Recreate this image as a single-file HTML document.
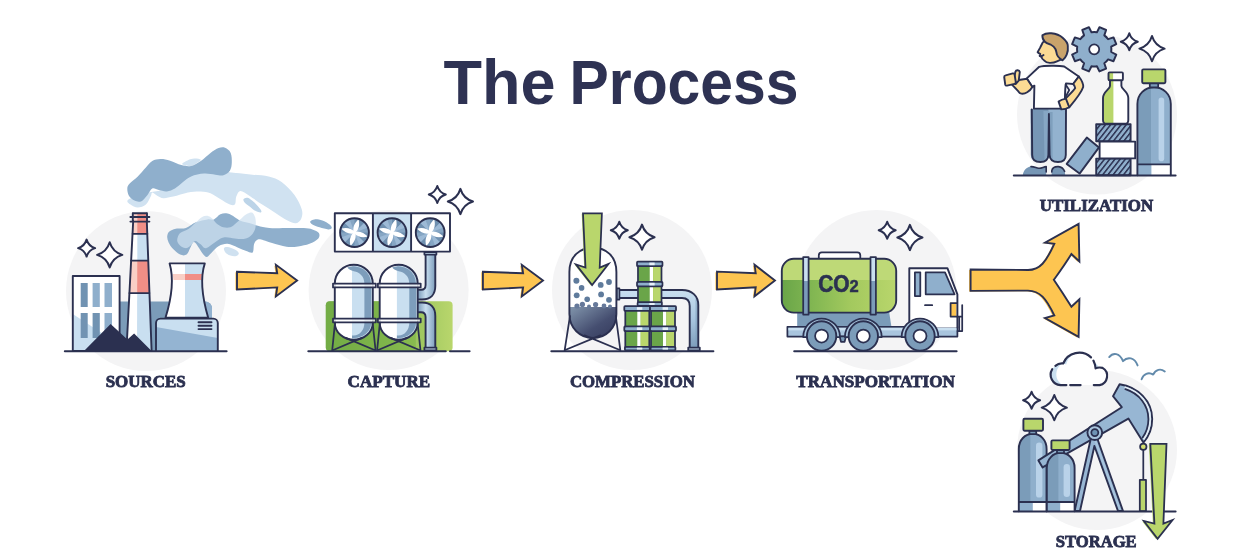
<!DOCTYPE html>
<html><head><meta charset="utf-8"><title>The Process</title>
<style>
html,body{margin:0;padding:0;background:#fff;}
body{width:1252px;height:557px;overflow:hidden;font-family:"Liberation Sans",sans-serif;}
svg{display:block;}
.lbl{font-family:"Liberation Serif",serif;font-weight:bold;font-size:16.4px;fill:#2b3050;stroke:#2b3050;stroke-width:0.8;}
.ttl{font-family:"Liberation Sans",sans-serif;font-weight:bold;font-size:63.5px;fill:#2e3253;}
.ol{stroke:#2b3050;stroke-width:1.9;stroke-linejoin:round;stroke-linecap:round;}
.nf{fill:none;}
.gl{stroke:#2b3050;stroke-width:2;stroke-linecap:round;fill:none;}
.sp{fill:#fff;stroke:#2b3050;stroke-width:1.4;stroke-linejoin:round;}
.ar{fill:#fdc551;stroke:#2b3050;stroke-width:1.9;stroke-linejoin:miter;}
</style></head>
<body>
<svg width="1252" height="557" viewBox="0 0 1252 557">
<defs>
<filter id="nof" x="-5%" y="-50%" width="110%" height="200%"><feOffset dx="0" dy="0"/></filter>
<path id="spk" d="M0,-1 C0.15,-0.5 0.5,-0.15 1,0 C0.5,0.15 0.15,0.5 0,1 C-0.15,0.5 -0.5,0.15 -1,0 C-0.5,-0.15 -0.15,-0.5 0,-1Z"/>
<linearGradient id="gGreen" x1="0" x2="1" y1="0" y2="0"><stop offset="0" stop-color="#6aa549"/><stop offset="0.5" stop-color="#86b954"/><stop offset="1" stop-color="#b9d66c"/></linearGradient>
<linearGradient id="gGreen2" x1="0" x2="1" y1="0" y2="0"><stop offset="0" stop-color="#69a548"/><stop offset="0.3" stop-color="#84b853"/><stop offset="0.6" stop-color="#a3c95e"/><stop offset="1" stop-color="#b9d66c"/></linearGradient>
<linearGradient id="gPipeV" x1="0" x2="1" y1="0" y2="0"><stop offset="0" stop-color="#7d9dbb"/><stop offset="0.45" stop-color="#c9dff0"/><stop offset="1" stop-color="#7d9dbb"/></linearGradient>
<linearGradient id="gPipeH" x1="0" x2="0" y1="0" y2="1"><stop offset="0" stop-color="#c9dff0"/><stop offset="0.5" stop-color="#a9c6e0"/><stop offset="1" stop-color="#7d9dbb"/></linearGradient>
<linearGradient id="gLiq" x1="0" x2="1" y1="0" y2="1"><stop offset="0" stop-color="#8296ad"/><stop offset="0.6" stop-color="#454e70"/><stop offset="1" stop-color="#343a5c"/></linearGradient>
</defs>
<rect width="1252" height="557" fill="#fff"/>
<g filter="url(#nof)"><text class="ttl" x="443.5" y="103.6" textLength="112" lengthAdjust="spacingAndGlyphs">The</text>
<text class="ttl" x="569.5" y="103.6" textLength="229" lengthAdjust="spacingAndGlyphs">Process</text></g>
<g fill="#f4f4f5">
<circle cx="146" cy="291" r="80"/>
<circle cx="388.6" cy="290" r="80"/>
<circle cx="632" cy="290" r="80"/>
<circle cx="876.5" cy="290" r="80"/>
<circle cx="1097" cy="114.5" r="80"/>
<circle cx="1097" cy="450" r="80"/>
</g>
<!-- smoke -->
<g>
<path fill="#d0e2f1" d="M182.2,164.2 C181.7,163.2 185.9,161.1 187.9,160.2 C189.9,159.3 192.2,158.7 194.3,158.6 C196.5,158.5 200.2,159.0 200.8,159.7 C201.4,160.4 199.2,161.6 197.6,162.6 C196.0,163.6 193.7,165.6 191.1,165.9 C188.5,166.2 182.7,165.1 182.2,164.2Z"/>
<path fill="#d0e2f1" d="M128.1,199.8 C125.8,201.7 128.9,203.3 130.5,204.6 C132.1,205.9 135.2,207.5 137.8,207.5 C140.4,207.5 143.8,206.4 145.9,204.6 C148.1,202.8 149.6,198.6 150.7,196.6 C151.8,194.6 151.2,192.7 152.3,192.5 C153.4,192.3 155.3,194.8 157.2,195.7 C159.1,196.6 160.9,198.0 163.6,198.2 C166.3,198.3 169.2,197.5 173.3,196.6 C177.4,195.7 183.3,193.4 187.9,192.5 C192.5,191.6 197.0,191.3 200.8,191.4 C204.6,191.5 207.3,192.0 210.5,193.3 C213.7,194.6 217.0,197.1 220.2,199.0 C223.4,200.9 227.4,203.7 229.9,204.6 C232.4,205.5 233.9,205.6 235.0,204.3 C236.1,203.0 235.4,198.8 236.3,196.6 C237.2,194.4 238.2,191.1 240.4,190.9 C242.6,190.8 245.7,193.4 249.3,195.7 C252.9,198.0 257.9,201.8 262.2,204.6 C266.5,207.4 270.8,210.0 275.1,212.7 C279.4,215.4 284.5,219.1 288.0,220.8 C291.5,222.6 293.9,223.6 296.1,223.2 C298.3,222.8 300.4,220.7 301.3,218.4 C302.2,216.1 302.9,213.4 301.8,209.5 C300.7,205.6 297.9,199.5 294.5,194.9 C291.1,190.3 285.9,185.1 281.6,182.0 C277.3,178.9 273.6,177.6 268.7,176.4 C263.8,175.2 257.9,175.2 252.5,174.7 C247.1,174.1 240.1,173.5 236.3,173.1 C232.5,172.7 233.1,172.7 229.9,172.3 C226.7,171.9 221.8,170.7 216.9,170.7 C212.1,170.7 206.2,171.2 200.8,172.3 C195.4,173.4 190.0,174.5 184.6,177.2 C179.2,179.9 175.2,185.8 168.5,188.5 C161.8,191.2 150.9,191.4 144.2,193.3 C137.5,195.2 130.4,197.9 128.1,199.8Z"/>
<path fill="#8fafcc" d="M127.3,188.5 C127.4,186.5 127.9,185.6 129.7,183.6 C131.4,181.6 135.1,179.1 137.8,176.4 C140.5,173.7 143.5,170.1 145.9,167.5 C148.3,164.9 149.9,162.4 152.3,161.0 C154.7,159.6 157.4,159.2 160.4,159.1 C163.4,159.0 166.6,159.7 170.1,160.7 C173.6,161.7 177.9,164.1 181.4,165.0 C184.9,165.9 187.9,166.6 191.1,165.9 C194.3,165.2 197.6,163.2 200.8,161.0 C204.0,158.8 207.5,155.1 210.5,152.9 C213.5,150.8 216.2,148.9 218.6,148.1 C221.0,147.2 223.0,147.0 225.0,147.8 C227.0,148.6 229.6,150.4 230.7,152.9 C231.8,155.4 231.9,159.6 231.8,162.6 C231.7,165.6 231.3,168.6 229.9,170.7 C228.5,172.8 225.8,174.5 223.4,175.2 C221.0,175.9 218.5,175.0 215.3,174.7 C212.1,174.4 208.0,173.3 204.0,173.6 C200.0,173.9 194.6,175.0 191.1,176.4 C187.6,177.8 185.7,180.0 183.0,182.0 C180.3,184.0 177.6,186.9 174.9,188.5 C172.2,190.1 169.6,191.1 166.9,191.4 C164.2,191.7 161.2,190.6 158.8,190.1 C156.4,189.6 154.2,187.7 152.3,188.5 C150.4,189.3 149.4,192.8 147.5,194.9 C145.6,197.1 143.2,200.5 141.0,201.4 C138.8,202.3 136.5,201.6 134.5,200.6 C132.5,199.6 130.1,197.7 128.9,195.7 C127.7,193.7 127.2,190.5 127.3,188.5Z"/>
<path fill="#bcd4e8" d="M243.6,199.0 C244.1,198.3 245.8,197.3 247.6,197.8 C249.3,198.3 251.9,200.2 254.1,202.2 C256.3,204.1 259.5,207.8 260.6,209.5 C261.7,211.2 261.7,212.1 260.9,212.4 C260.1,212.7 257.6,212.1 255.7,211.1 C253.8,210.1 251.2,207.7 249.3,206.2 C247.4,204.7 245.4,203.4 244.4,202.2 C243.4,201.0 243.1,199.7 243.6,199.0Z"/>
<path fill="#8fafcc" d="M167.2,236.6 C167.3,234.8 167.9,232.9 169.3,231.6 C170.7,230.3 173.0,229.3 175.8,228.7 C178.6,228.1 182.6,229.1 185.9,228.0 C189.2,226.9 192.3,223.7 195.9,222.3 C199.5,220.9 204.4,219.9 207.4,219.4 C210.4,218.9 211.7,220.2 213.9,219.4 C216.1,218.6 218.1,215.3 220.4,214.3 C222.7,213.3 225.2,213.1 227.6,213.6 C230.0,214.1 232.7,216.0 234.8,217.2 C237.0,218.4 238.1,219.8 240.5,220.8 C242.9,221.8 246.2,222.2 249.1,223.0 C252.0,223.8 254.4,225.0 257.8,225.8 C261.2,226.6 264.0,227.6 269.3,228.0 C274.6,228.4 283.6,228.0 289.4,228.0 C295.1,228.0 300.0,227.8 303.8,228.0 C307.6,228.2 309.9,228.6 312.4,229.4 C314.9,230.2 317.9,231.4 318.9,233.0 C319.8,234.6 319.7,237.0 318.1,238.8 C316.5,240.6 312.9,242.5 309.5,243.8 C306.1,245.1 301.8,245.9 298.0,246.4 C294.2,246.9 290.8,247.2 286.5,246.7 C282.2,246.1 275.9,244.2 272.1,243.1 C268.3,242.0 265.9,240.8 263.5,240.2 C261.1,239.6 259.4,238.9 257.8,239.5 C256.2,240.1 255.0,241.7 254.2,243.8 C253.3,246.0 254.0,251.2 252.7,252.4 C251.4,253.6 248.8,251.8 246.3,251.0 C243.8,250.2 240.7,248.6 237.6,247.4 C234.5,246.2 230.7,244.0 227.6,243.8 C224.5,243.6 221.5,244.6 218.9,246.0 C216.3,247.4 213.8,250.6 211.8,252.4 C209.8,254.2 208.3,256.9 206.7,257.0 C205.1,257.1 203.8,254.9 202.4,253.2 C201.0,251.5 199.5,248.5 198.1,246.7 C196.7,244.8 195.1,241.9 193.8,242.1 C192.5,242.3 191.4,246.0 190.2,248.1 C189.0,250.2 188.3,253.5 186.6,254.6 C184.9,255.7 182.4,255.6 180.1,254.6 C177.8,253.6 174.8,250.8 172.9,248.8 C171.0,246.8 169.6,244.4 168.6,242.4 C167.6,240.4 167.1,238.4 167.2,236.6Z"/>
<path fill="#cfe1f0" fill-opacity="0.72" d="M177.3,238.8 C177.7,237.1 178.2,234.7 180.1,233.0 C182.0,231.3 186.2,230.5 188.8,228.7 C191.4,226.9 193.8,224.2 195.9,222.3 C198.1,220.4 199.8,218.3 201.7,217.2 C203.6,216.1 205.6,215.6 207.4,215.8 C209.2,216.1 210.9,217.4 212.5,218.7 C214.1,220.0 215.0,222.3 216.8,223.7 C218.6,225.1 221.0,226.7 223.3,227.3 C225.6,227.9 228.2,228.0 230.4,227.3 C232.6,226.6 234.3,224.6 236.2,223.0 C238.1,221.4 240.0,219.5 241.9,217.9 C243.8,216.3 245.9,214.4 247.7,213.6 C249.5,212.8 251.4,211.9 252.7,212.9 C254.0,213.9 255.2,216.8 255.6,219.4 C256.0,222.0 255.9,226.1 255.2,228.7 C254.5,231.3 253.0,233.5 251.3,235.2 C249.6,236.9 247.6,238.3 244.8,238.8 C242.1,239.3 238.2,238.7 234.8,238.4 C231.5,238.2 227.7,236.9 224.7,237.3 C221.7,237.7 219.4,239.3 216.8,240.9 C214.2,242.5 210.9,245.5 208.9,246.7 C206.9,247.9 206.0,248.5 204.6,248.1 C203.2,247.7 201.9,245.3 200.3,244.1 C198.7,242.9 196.8,240.7 195.2,240.9 C193.6,241.1 192.3,244.1 190.9,245.3 C189.5,246.5 188.2,247.9 186.6,248.1 C185.0,248.3 183.0,247.5 181.6,246.7 C180.2,245.9 178.7,244.4 178.0,243.1 C177.3,241.8 177.0,240.5 177.3,238.8Z"/>
<path fill="#8fafcc" d="M310.2,221.5 C310.6,220.7 312.5,219.6 314.5,219.4 C316.5,219.2 319.9,219.7 322.4,220.5 C324.9,221.3 328.0,223.2 329.6,224.4 C331.2,225.7 332.0,227.2 331.8,228.0 C331.6,228.8 330.2,229.5 328.2,229.4 C326.2,229.3 322.2,228.1 319.6,227.3 C317.0,226.5 314.0,225.4 312.4,224.4 C310.8,223.4 309.8,222.3 310.2,221.5Z"/>
<path fill="#cfe1f0" d="M224.0,248.1 C224.4,247.2 225.8,246.8 227.6,247.0 C229.4,247.2 232.9,248.6 234.8,249.6 C236.7,250.6 238.6,252.1 238.8,253.2 C239.0,254.3 237.6,255.6 236.2,256.0 C234.8,256.4 232.2,256.2 230.4,255.6 C228.6,255.0 226.5,253.7 225.4,252.4 C224.3,251.2 223.6,249.0 224.0,248.1Z"/>
</g>

<!-- sources -->
<g>
<!-- back block -->
<path fill="#7b9cb9" d="M117,301.5 H205 a7,7 0 0 1 7,7 V351 H117Z"/>
<path fill="#92b2d0" d="M200,301.5 H205 a7,7 0 0 1 7,7 V320 H200Z"/>
<!-- office building -->
<rect x="72.8" y="276" width="46.8" height="75" fill="#fff"/>
<path fill="#c9dff0" d="M72.8,314 L120,345 V351 H72.8Z"/>
<g fill="#8fafcc">
<rect x="80.7" y="283" width="7" height="24" fill="#7193b2"/>
<rect x="92.6" y="283" width="7.2" height="24"/>
<rect x="104.5" y="283" width="7.5" height="24"/>
<rect x="80.7" y="313" width="7" height="25" fill="#7193b2"/>
<rect x="92.6" y="313" width="7.2" height="25" fill="#7193b2"/>
<rect x="104.5" y="313" width="7.5" height="25"/>
</g>
<rect class="ol nf" x="72.8" y="276" width="46.8" height="75"/>
<!-- chimney -->
<path fill="#fff" d="M133.2,221 L146.8,221 L151.6,351 L126.4,351Z"/>
<path fill="#c9dff0" d="M137.4,221 L146.8,221 L151.6,351 L137,351Z"/>
<path fill="#f9cfc6" d="M133.1,213 H147 L147.6,233.8 H132.6Z"/>
<path fill="#f08e86" d="M137.4,213 H147 L147.6,233.8 H137.3Z"/>
<path fill="#f9cfc6" d="M131.1,260.5 H148.2 L149.4,293 H129.4Z"/>
<path fill="#f08e86" d="M137.3,260.5 H148.2 L149.4,293 H137.2Z"/>
<path class="ol nf" d="M133.2,221 L126.4,351 M146.8,221 L151.6,351"/>
<path class="ol nf" d="M132.6,233.8 H147.4 M131.1,260.5 H148.2 M129.4,293 H149.4" style="stroke-width:1.75"/>
<path class="ol nf" d="M133,213.3 H146.8 M130.4,217 H149.4 M130.4,221.6 H149.4 M132.8,213.3 V221.6 M147,213.3 V221.6"/>
<!-- cooling tower -->
<path fill="#fff" d="M169.6,263.4 H204.8 C201,275 200,290 208.2,317.7 H165.5 C174,290 173,275 169.6,263.4Z"/>
<path fill="#c9dff0" d="M185,263.4 H204.8 C201,275 200,290 208.2,317.7 H185Z"/>
<path fill="#f9cfc6" d="M172.6,274 H185 V280 H173.5Z"/>
<path fill="#f08e86" d="M185,274 H201.9 L201.2,280 H185Z"/>
<path class="ol nf" d="M169.6,263.4 H204.8 C201,275 200,290 208.2,317.7 H165.5 C174,290 173,275 169.6,263.4Z"/>
<!-- base -->
<rect x="156" y="318.6" width="61.8" height="32.4" rx="4.5" fill="#c9dff0"/>
<path fill="#94b4d2" d="M156,327 L217.8,338 V351 H156Z"/>
<path class="ol nf" d="M156,351 V323 a4.5,4.5 0 0 1 4.5,-4.4 H213.3 a4.5,4.5 0 0 1 4.5,4.4 V351"/>
<path class="ol nf" d="M198.5,322.3 H211.5 M198.5,325.7 H211.5 M198.5,329.1 H211.5" stroke-width="1.46"/>
<!-- coal -->
<path fill="#2b3050" d="M84,351 L110.6,324 L127.4,339.5 L134.1,333.5 L151.6,351Z"/>
<!-- ground -->
<path class="gl" d="M64.8,351.2 H226.6"/>
<!-- sparkles -->
<use href="#spk" class="sp" transform="translate(86.6,248.1) scale(8.5)" style="stroke-width:0.235"/>
<use href="#spk" class="sp" transform="translate(109.7,254.9) scale(12.6)" style="stroke-width:0.16"/>
</g>

<!-- capture -->
<g>
<defs>
<g id="fan">
<circle r="14.4" fill="#86a6c4"/>
<g fill="#6f90b0"><path d="M0,0 L-14.4,0 A14.4,14.4 0 0 1 -10.2,-10.2Z M0,0 L0,-14.4 A14.4,14.4 0 0 1 10.2,-10.2Z M0,0 L14.4,0 A14.4,14.4 0 0 1 10.2,10.2Z M0,0 L0,14.4 A14.4,14.4 0 0 1 -10.2,10.2Z"/></g>
<g fill="#9dbad6"><path d="M0,0 L-10.2,-10.2 A14.4,14.4 0 0 1 -5,-13.5Z M0,0 L10.2,-10.2 A14.4,14.4 0 0 1 13.5,-5Z M0,0 L10.2,10.2 A14.4,14.4 0 0 1 5,13.5Z M0,0 L-10.2,10.2 A14.4,14.4 0 0 1 -13.5,5Z"/></g>
<g fill="#fff">
<path id="bl" d="M-0.5,0.5 C-2.6,-4.6 0.2,-9.8 4,-13.3 C5.2,-8.8 5,-3.4 0.5,0.5Z"/>
<use href="#bl" transform="rotate(90)"/><use href="#bl" transform="rotate(180)"/><use href="#bl" transform="rotate(270)"/>
</g>
<circle r="14.4" class="ol nf"/>
</g>
<g id="ctank">
<path fill="#fff" d="M0,19 A19,19 0 0 1 38,19 V58 A19,17 0 0 1 0,58Z"/>
<path fill="#c9dff0" d="M17.2,0.1 A19,19 0 0 1 38,19 V58 A19,17 0 0 1 17.2,74.9Z"/>
<path fill="#7d9dbb" d="M12.5,2.9 A17.3,17.3 0 0 1 36.3,19 V58 A17.3,15.3 0 0 1 19,73.3 L17.2,73.2 V70.9 L19,70.8 A10.6,12.8 0 0 0 29.6,58 V19 C29.6,12 25,7.4 19,6.6 C16,6 14,4.6 12.5,2.9Z"/>
<path class="ol nf" d="M0,19 A19,19 0 0 1 38,19 V58 A19,17 0 0 1 0,58Z"/>
<rect x="-1.8" y="18.9" width="42.8" height="3.8" fill="#fff" fill-opacity="0.8" class="ol" style="stroke-width:1.75"/>
<rect x="-1.8" y="53.8" width="42.8" height="3.8" fill="#fff" fill-opacity="0.8" class="ol" style="stroke-width:1.75"/>
<path class="ol nf" d="M0.2,58 L-2.6,85.8 M37.8,58 L40.8,85.8 M-2.6,85.8 L27,73.2 M40.8,85.8 L11,73.2" style="stroke-width:1.75"/>
</g>
</defs>
<!-- green bg -->
<rect x="325.8" y="301.3" width="126.8" height="50" rx="4" fill="url(#gGreen)"/>
<rect x="325.8" y="301.3" width="90" height="50" rx="4" fill="#7ab244" opacity="0.55"/>
<!-- pipes -->
<path fill="url(#gPipeV)" d="M425.6,253.5 H435.3 V286 C435.3,294 431,299.5 422,299.5 H418 V289.8 H421 C424,289.8 425.6,288 425.6,285Z"/>
<path class="ol nf" d="M425.6,253.5 V285 C425.6,288 424,289.8 421,289.8 H418 M435.3,253.5 V286 C435.3,294 431,299.5 422,299.5 H418"/>
<path fill="url(#gPipeV)" d="M418,302.5 H422 C431,302.5 435.3,308 435.3,316 V348 H425.6 V317 C425.6,314 424,312.3 421,312.3 H418Z"/>
<path class="ol nf" d="M418,302.5 H422 C431,302.5 435.3,308 435.3,316 V348 M418,312.3 H421 C424,312.3 425.6,314 425.6,317 V348"/>
<rect x="424.4" y="252" width="12" height="2.6" fill="#c9dff0" class="ol" style="stroke-width:1.75"/>
<rect x="424.4" y="347.6" width="12" height="2.8" fill="#c9dff0" class="ol" style="stroke-width:1.75"/>
<!-- tanks -->
<use href="#ctank" transform="translate(334.8,264.7)"/>
<use href="#ctank" transform="translate(379.7,264.7)"/>
<!-- fan box -->
<rect x="334.8" y="213.2" width="115.2" height="38.4" fill="#fff"/>
<rect x="372.9" y="213.2" width="38.2" height="38.4" fill="#c9dff0"/>
<path class="ol nf" d="M334.8,213.2 H450 V251.6 H334.8Z M372.9,213.2 V251.6 M411.1,213.2 V251.6"/>
<use href="#fan" transform="translate(354.5,232.6)"/>
<use href="#fan" transform="translate(392,232.6)"/>
<use href="#fan" transform="translate(430.2,232.6)"/>
<!-- ground -->
<path class="gl" d="M308.3,351.2 H445.8 M450,351.2 H469.6"/>
<use href="#spk" class="sp" transform="translate(437.3,194.5) scale(8.5)" style="stroke-width:0.235"/>
<use href="#spk" class="sp" transform="translate(460.4,201.5) scale(12.6)" style="stroke-width:0.16"/>
</g>

<!-- compression -->
<g>
<defs>
<g id="barrel">
<rect x="1" y="2" width="24" height="41" fill="#6aa549"/>
<rect x="13" y="2" width="3.4" height="41" fill="#fff"/>
<rect x="16.4" y="2" width="8.4" height="41" fill="#b9d66c"/>
<g fill="#8fafcc" class="ol" style="stroke-width:1.75">
<rect x="0" y="0.2" width="26" height="4.6" rx="0.8"/>
<rect x="0" y="20.4" width="26" height="4.6" rx="0.8"/>
<rect x="0.6" y="40.8" width="24.8" height="3.6" rx="0.8"/>
</g>
<rect x="12.6" y="1.2" width="5.4" height="2.6" fill="#e8f1f9"/>
<rect x="12.6" y="21.4" width="5.4" height="2.6" fill="#e8f1f9"/>
<rect x="12.6" y="41.6" width="5.4" height="2" fill="#e8f1f9"/>
<path class="ol nf" d="M1,4.8 V20.4 M25,4.8 V20.4 M1,25 V40.8 M25,25 V40.8" style="stroke-width:1.75"/>
</g>
</defs>
<!-- pipe -->
<path fill="url(#gPipeH)" d="M619,290 H682 C692,290 698.3,296 698.3,305 V348 H689.7 V306 C689.7,300.5 687,298 682,298 H619Z"/>
<path fill="#7d9dbb" opacity="0.6" d="M695.5,300 V348 H698.3 V305 C698.3,301 697.5,299 696,297Z"/>
<path class="ol nf" d="M619,290 H682 C692,290 698.3,296 698.3,305 V348 M619,298 H682 C687,298 689.7,300.5 689.7,306 V348"/>
<rect x="616.8" y="288.4" width="2.6" height="11.2" fill="#c9dff0" class="ol" style="stroke-width:1.75"/>
<rect x="688.2" y="347.6" width="11.6" height="2.8" fill="#c9dff0" class="ol" style="stroke-width:1.75"/>
<!-- vessel -->
<path fill="#fff" d="M569.4,272 C569.4,256 580,247.7 592.9,247.7 C606,247.7 616.4,256 616.4,272 V314 C616.4,328 606,338 592.9,338 C580,338 569.4,328 569.4,314Z"/>
<path fill="url(#gLiq)" d="M569.4,307 H616.4 V314 C616.4,328 606,338 592.9,338 C580,338 569.4,328 569.4,314Z"/>
<g fill="#66799a"><circle cx="577" cy="306" r="2.6"/><circle cx="582.4" cy="304.4" r="2.6"/><circle cx="595.6" cy="304.6" r="2.6"/><circle cx="604" cy="306" r="2.4"/><circle cx="589" cy="306.4" r="2"/><circle cx="610" cy="306.6" r="2"/></g>
<g fill="#5f7b9c">
<circle cx="576.4" cy="280.7" r="3"/><circle cx="581.6" cy="287.9" r="2.8"/><circle cx="576.7" cy="295.3" r="2.9"/><circle cx="587.2" cy="299.3" r="2.8"/>
<circle cx="600.7" cy="284.9" r="2.9"/><circle cx="609" cy="282" r="2.9"/><circle cx="601.1" cy="294.4" r="2.9"/><circle cx="609" cy="299.8" r="2.9"/>

</g>
<path class="ol nf" d="M569.4,272 C569.4,256 580,247.7 592.9,247.7 C606,247.7 616.4,256 616.4,272 V314 C616.4,328 606,338 592.9,338 C580,338 569.4,328 569.4,314Z"/>
<path class="ol nf" d="M570,316 L564.6,350.6 M615.8,316 L620.4,350.6 M565.2,350 L600.4,335.4 M619.8,350 L584.6,335.4" style="stroke-width:1.75"/>
<!-- green arrow -->
<path fill="#b9d66c" transform="translate(-1.3,0.4)" d="M583,213.4 H601.9 L599.7,267.6 L608.6,263.9 L592.1,285 L575.9,264.4 L585.5,267.6Z"/>
<path fill="#b9d66c" class="ol" style="stroke-linejoin:miter;stroke-width:1.75" d="M583,213.4 H601.9 L599.7,267.6 L608.6,263.9 L592.1,285 L575.9,264.4 L585.5,267.6Z"/>

<!-- barrels -->
<use href="#barrel" transform="translate(637,261.4) scale(0.98,1)"/>
<use href="#barrel" transform="translate(624.3,306)"/>
<use href="#barrel" transform="translate(650,306)"/>
<!-- ground -->
<path class="gl" d="M551.3,351.2 H713.4"/>
<use href="#spk" class="sp" transform="translate(619.3,230.2) scale(8.5)" style="stroke-width:0.235"/>
<use href="#spk" class="sp" transform="translate(642,237.2) scale(12.6)" style="stroke-width:0.16"/>
</g>

<!-- transport -->
<g>
<defs>
<g id="wheel">
<path d="M-18.4,1 A18.4,18.4 0 0 1 18.4,1Z" fill="#a9c5de" class="ol" style="stroke-width:1.75"/>
<circle r="14.7" fill="#7b9cb9" class="ol"/>
<circle r="6.5" fill="#fff" class="ol" style="stroke-width:1.75"/>
</g>
<clipPath id="tkclip"><rect x="781.8" y="258.8" width="114.4" height="53.8" rx="12"/></clipPath>
</defs>
<!-- chassis block -->
<path fill="#7b9cb9" d="M797.2,311 H889 L891.6,328 H797.2Z"/>
<!-- frame rail -->
<rect x="787.4" y="326.8" width="170" height="9.8" fill="#a9c5de" class="ol" style="stroke-width:1.75"/>
<rect x="788.4" y="327.8" width="168" height="2.6" fill="#c9dff0"/>
<path fill="#7b9cb9" class="ol" style="stroke-width:1.75" d="M839.6,336.4 h6.4 l-1.4,5.4 h-3.6Z"/>
<!-- cab -->
<path fill="#fff" d="M909.3,268.2 H947.4 L957.4,294.4 V327.4 H909.3Z"/>
<path fill="#8fafcc" d="M925.7,272.3 H945 L954.6,294.3 H925.7Z"/>
<rect x="914.9" y="272.3" width="5.4" height="23.8" fill="#8fafcc"/>
<path class="ol nf" d="M925.7,272.3 H945 L954.6,294.3 H925.7Z M914.9,272.3 h5.4 v23.8 h-5.4Z" style="stroke-width:1.75"/>
<rect x="950.8" y="302.8" width="5.6" height="14" fill="#fdc551"/>
<path class="ol nf" d="M950.6,303 H957 M950.6,303 V316.6 H957" style="stroke-width:1.75"/>
<path class="ol nf" d="M909.3,327 V268.2 H947.4 L957.4,294.4 V327.4"/>
<path class="ol nf" d="M925,305.2 H932.2" style="stroke-width:1.75"/>
<path class="ol nf" d="M962.2,305 V331 H957.6 M957.4,316.6 H962.2 M959.2,316.6 V331" style="stroke-width:1.75"/>
<use href="#wheel" transform="translate(821.6,336)"/>
<use href="#wheel" transform="translate(863.3,336)"/>
<use href="#wheel" transform="translate(920,336)"/>
<!-- tank -->
<rect x="818.8" y="252.4" width="41.5" height="12" rx="3" fill="#fff" class="ol" style="stroke-width:1.75"/>
<g clip-path="url(#tkclip)">
<rect x="781" y="258" width="116" height="56" fill="#b9d66c"/>
<rect x="781" y="280" width="116" height="34" fill="url(#gGreen2)"/>
<rect x="781" y="258" width="116" height="22" fill="#fff" opacity="0.08"/>
</g>
<rect x="781.8" y="258.8" width="114.4" height="53.8" rx="12" class="ol nf"/>
<g>
<rect x="803.2" y="257" width="5.4" height="57.6" fill="#7b9cb9"/>
<rect x="803.2" y="257" width="5.4" height="24" fill="#c9dff0"/>
<rect x="870.5" y="257" width="5.4" height="57.6" fill="#7b9cb9"/>
<rect x="870.5" y="257" width="5.4" height="24" fill="#c9dff0"/>
<path class="ol nf" d="M803.2,257 h5.4 v57.6 h-5.4Z M870.5,257 h5.4 v57.6 h-5.4Z" style="stroke-width:1.75"/>
</g>
<g filter="url(#nof)"><text x="818.2" y="291.6" font-family="Liberation Sans, sans-serif" font-weight="bold" font-size="23.2" fill="#2b3050" stroke="#2b3050" stroke-width="0.6" textLength="31.4" lengthAdjust="spacingAndGlyphs">CO</text>
<text x="849.6" y="291.6" font-family="Liberation Sans, sans-serif" font-weight="bold" font-size="17.4" fill="#2b3050" stroke="#2b3050" stroke-width="0.5" textLength="9.2" lengthAdjust="spacingAndGlyphs">2</text></g>
<!-- ground -->
<path class="gl" d="M794.2,351.2 H956.6"/>
<use href="#spk" class="sp" transform="translate(887.2,230.3) scale(8.5)" style="stroke-width:0.235"/>
<use href="#spk" class="sp" transform="translate(909.9,237.5) scale(12.6)" style="stroke-width:0.16"/>
</g>

<!-- utilization -->
<g>
<defs>
<pattern id="hatch" width="4.1" height="4.1" patternUnits="userSpaceOnUse" patternTransform="rotate(-52)">
<rect width="4.1" height="4.1" fill="#8fafcc"/><rect width="4.1" height="1.5" fill="#2b3050"/>
</pattern>
</defs>
<!-- gear -->
<path transform="translate(1094.2,49.3)" fill="#8fafcc" class="ol" style="stroke-width:1.95;stroke-linejoin:round" d="M2.70,-16.99 L5.23,-22.09 L11.92,-19.32 L10.10,-13.92 A17.2,17.2 0 0 1 13.92,-10.10 L19.32,-11.92 L22.09,-5.23 L16.99,-2.70 A17.2,17.2 0 0 1 16.99,2.70 L22.09,5.23 L19.32,11.92 L13.92,10.10 A17.2,17.2 0 0 1 10.10,13.92 L11.92,19.32 L5.23,22.09 L2.70,16.99 A17.2,17.2 0 0 1 -2.70,16.99 L-5.23,22.09 L-11.92,19.32 L-10.10,13.92 A17.2,17.2 0 0 1 -13.92,10.10 L-19.32,11.92 L-22.09,5.23 L-16.99,2.70 A17.2,17.2 0 0 1 -16.99,-2.70 L-22.09,-5.23 L-19.32,-11.92 L-13.92,-10.10 A17.2,17.2 0 0 1 -10.10,-13.92 L-11.92,-19.32 L-5.23,-22.09 L-2.70,-16.99 A17.2,17.2 0 0 1 2.70,-16.99Z"/>
<circle cx="1094.2" cy="49.3" r="5" fill="#fff" class="ol" style="stroke-width:1.75"/>
<!-- pants -->
<path fill="#7696b5" d="M1030.6,109 H1048.8 V155 C1048.8,160 1046,162 1040.4,162 C1034.6,162 1031,160 1030.8,155Z"/>
<path fill="#86a6c4" d="M1043.4,111 H1048.8 V155 C1048.8,158.6 1047.4,160.6 1044.6,161.6Z"/>
<path fill="#93b2cf" d="M1049,109 H1066 V155 C1066,160 1063.4,162 1058,162 C1052,162 1049.2,160 1049,155Z"/>
<path fill="#7f9fbd" d="M1049,112 H1052.6 V160.6 C1050.4,159.6 1049.2,158 1049,155Z"/>
<path class="ol nf" d="M1031.8,109.4 L1032.2,155 C1032.2,160 1034.8,162 1040.4,162 C1045.8,162 1048.2,160 1048.4,155 L1048.9,114 L1049.6,155 C1049.8,160 1052.4,162 1058,162 C1063.2,162 1065.8,160 1065.8,155 L1066,109.4"/>
<!-- shoes -->
<path fill="#7696b5" d="M1022.8,175.2 C1023.4,170.6 1026.4,167.2 1031,166.6 C1034,166.4 1036,167.8 1038.6,168.2 C1041.6,168.6 1043.6,166.6 1046.2,166.6 V175.2Z"/>
<path class="ol nf" style="stroke-width:1.6" d="M1031,166.6 C1034,166.4 1036,167.8 1038.6,168.2 C1041.6,168.6 1043.6,166.6 1046.2,166.6 V172"/>
<path fill="#7696b5" d="M1051.6,175.2 V170.6 C1052.4,167.8 1055,166.4 1058.4,166.6 C1062.4,167 1065,170.4 1065.2,175.2Z"/>
<path class="ol nf" style="stroke-width:1.6" d="M1051.8,172 V170.6 C1052.4,167.8 1055,166.4 1058.4,166.6 C1061.4,166.9 1063.6,168.8 1064.6,171.4"/>
<!-- shirt -->
<path fill="#fff" class="ol" d="M1039.2,66.8 C1044,65.6 1059,65.4 1064.2,66.5 L1078.8,76.5 L1073.1,84 L1066,83.4 L1064.2,108.6 H1033.9 L1034.4,85.6 L1032.4,87 L1026.8,78.4Z"/>
<!-- right arm (hip) -->
<path fill="#fcdb94" class="ol" d="M1078.8,76.5 C1081.6,80 1083.4,83.6 1083.2,87 C1081,93.6 1074,101.6 1069.1,107.4 L1063.4,100.8 C1068,96 1073,91.6 1075.2,88.1 C1075,86.4 1074.4,85.2 1073.2,84Z"/>
<path fill="#fcdb94" class="ol" d="M1058.6,101.6 C1060.6,100 1063.4,99 1065.9,98.6 L1069.2,107.2 C1067,108.6 1064,109.4 1061.3,109.4Z"/>
<path fill="#fff" class="ol" style="stroke-width:1.75" d="M1065.6,84.4 L1069.2,90 L1065,98.4Z"/>
<!-- left arm thumbs up -->
<path fill="#fcdb94" class="ol" d="M1018.7,80 L1027,78.8 L1032.4,87 C1029.6,91.6 1025,94.2 1021.4,93.6 C1019.8,93.2 1019,92.4 1018.4,91.4 L1012.2,84.9Z"/>
<path fill="#fcdb94" class="ol" d="M1014.4,76.4 L1015.4,71.8 C1016,69.6 1019.4,69.8 1019.8,72 L1018.7,80.6 L1015.6,84Z"/>
<path fill="#fcdb94" class="ol" d="M1005.6,75.4 L1012.8,73.4 C1013.8,73.2 1014.4,73.8 1014.6,74.6 L1015.8,82 C1015.9,83 1015.4,83.6 1014.6,83.8 L1007,85.6 C1006,85.8 1005.4,85.2 1005.2,84.4 L1004.2,77 C1004.1,76.2 1004.6,75.6 1005.6,75.4Z"/>
<!-- head -->
<path fill="#fcdb94" class="ol" d="M1042.9,42.2 C1042,44 1041,45.8 1040.3,47.4 C1039.4,49.2 1038.4,50.8 1037.6,52.2 C1038.4,53.2 1039.4,53.6 1040.3,53.9 L1039.7,55.8 L1041.6,57.1 C1041.8,58.4 1042.8,59.6 1044,60.3 C1045.6,62 1047.6,62.8 1049.7,62.9 C1052.4,63 1055,62.4 1057,61.4 C1059,60.6 1060.6,59.8 1061.8,59.2 L1060,44 L1050,38Z"/>
<path fill="#c9a36b" class="ol" d="M1042.4,35.3 C1045,33.4 1048,33 1051.3,33.3 C1056,33.8 1060,35.4 1062.6,37.7 C1066,40.6 1067.8,43.4 1067.8,45.8 C1068.2,49 1067.8,52 1066.7,54.7 C1065.8,57 1064.4,59 1062.6,60.3 C1061.6,60 1060.8,59.4 1060.2,58.7 C1058.8,57.6 1057.6,56.4 1057,54.7 C1056.4,53 1056.4,51 1055.4,49 C1054.4,47.2 1053,45.8 1051.3,45 C1049,44 1046.6,43.2 1044.9,41.7 C1043.4,40.4 1042.2,38 1042.4,35.3Z"/>
<path class="ol nf" d="M1039.7,55.9 C1041,56.2 1042.6,55.8 1043.6,55" style="stroke-width:1.75"/>
<!-- tilted brick -->
<path fill="#8fafcc" class="ol" d="M1086.8,137.6 L1099,147.4 L1079.6,173.6 L1066.7,163.9Z"/>
<!-- stack -->
<rect x="1096.2" y="124.3" width="34.4" height="17" fill="url(#hatch)" class="ol"/>
<rect x="1096.2" y="158.6" width="34.4" height="16.6" fill="url(#hatch)" class="ol"/>
<rect x="1099.6" y="141.6" width="35.6" height="16.8" fill="#fff" class="ol"/>
<!-- white bottle -->
<path fill="#fff" d="M1110,80.2 H1121.4 V86 C1121.4,89 1128.3,92 1128.3,98 V120 C1128.3,122.6 1127,123.8 1125,123.8 H1106.4 C1104.4,123.8 1103,122.6 1103,120 V98 C1103,92 1110,89 1110,86Z"/>
<path fill="#b9d66c" d="M1110,80.2 H1113.4 V123.8 H1106.4 C1104.4,123.8 1103,122.6 1103,120 V98 C1103,92 1110,89 1110,86Z"/>
<path class="ol nf" d="M1110,80.2 V86 C1110,89 1103,92 1103,98 V120 C1103,122.6 1104.4,123.8 1106.4,123.8 H1125 C1127,123.8 1128.3,122.6 1128.3,120 V98 C1128.3,92 1121.4,89 1121.4,86 V80.2"/>
<rect x="1108.5" y="72.4" width="14.4" height="7.8" rx="1" fill="#fff"/>
<rect x="1108.5" y="72.4" width="4.6" height="7.8" fill="#b9d66c"/>
<rect x="1108.5" y="72.4" width="14.4" height="7.8" rx="1" class="ol nf"/>
<!-- blue cylinder -->
<path fill="#7b9cb9" d="M1137.4,104 C1137.4,94 1145,87.2 1154,87.2 C1163,87.2 1170.8,94 1170.8,104 V175.2 H1137.4Z"/>
<path fill="#8fafcc" d="M1151,87.5 C1152,87.2 1153,87.2 1154,87.2 C1163,87.2 1170.8,94 1170.8,104 V175 H1151Z"/>
<rect x="1158.6" y="97.6" width="5.6" height="63.6" rx="2.8" fill="#b9d2e9"/>
<rect x="1137.4" y="164.4" width="33.4" height="11" fill="#fff"/>
<rect x="1137.4" y="164.4" width="14" height="11" fill="#8fafcc"/>
<path class="ol nf" d="M1137.4,175.2 V104 C1137.4,94 1145,87.2 1154,87.2 C1163,87.2 1170.8,94 1170.8,104 V175.2 M1137.4,164.4 H1170.8"/>
<rect x="1149.8" y="83" width="8.4" height="4.4" fill="#7b9cb9" class="ol" style="stroke-width:1.75"/>
<rect x="1142.2" y="69.4" width="23.2" height="13.8" rx="1.2" fill="#b9d66c" class="ol"/>
<!-- ground -->
<path class="gl" d="M1013.8,175.6 H1175.6"/>
<use href="#spk" class="sp" transform="translate(1129.3,41.7) scale(8.5)" style="stroke-width:0.235"/>
<use href="#spk" class="sp" transform="translate(1152,48.6) scale(12.6)" style="stroke-width:0.16"/>
</g>

<!-- storage -->
<g>
<defs>
<g id="scyl">
<!-- small cylinder; origin = top-left of body bbox; width 27.4 ; body from dome top y=0 -->
</g>
</defs>
<!-- cloud -->
<path fill="#fff" d="M1060.4,385.1 A10.2,10.4 0 0 1 1063.2,363.5 A17.2,17.2 0 0 1 1093.4,360.6 C1094.6,363 1095.3,365.6 1095.6,368.4 C1097.6,367.4 1100,367.2 1102.5,367.9 A9.6,9.4 0 0 1 1099.6,385.1Z"/>
<path fill="#c9dff0" d="M1060.4,385 A10.2,10.4 0 0 1 1055,366.2 C1057,365 1059.4,364.2 1061.6,364 C1056.6,367.6 1055,374 1057.4,379.6 C1058.6,382.2 1060.6,384 1063,385Z"/>
<path fill="#c9dff0" d="M1063.2,363.5 A17.2,17.2 0 0 1 1073,354.4 C1069.4,356.8 1067,360.6 1066.2,364.6Z"/>
<path fill="#c9dff0" d="M1095.5,363 C1097,364.4 1098.2,366 1099,367.6 C1097.8,367.6 1096.6,367.9 1095.6,368.4Z"/>
<path class="ol nf" style="stroke-width:2.18" d="M1066.4,385.1 H1060.4 A10.2,10.4 0 0 1 1052.2,369.2 M1055.4,365.8 A10.2,10.4 0 0 1 1063.2,363.5 A17.2,17.2 0 0 1 1091,357.4 M1093.4,360.6 C1094.6,363 1095.3,365.6 1095.6,368.4 C1097.6,367.4 1100,367.2 1102.5,367.9 A9.6,9.4 0 0 1 1099.6,385.1 H1093.8 M1070.2,385.1 H1080.6"/>
<!-- birds -->
<path fill="none" stroke="#628aab" stroke-width="1.90" stroke-linecap="round" stroke-linejoin="round" d="M1109.2,357.1 C1113,352.4 1119.6,352.6 1123,361.2 C1127.6,356.2 1134.6,357.4 1137.6,365.4"/>
<path fill="none" stroke="#628aab" stroke-width="1.90" stroke-linecap="round" stroke-linejoin="round" d="M1141.6,379.3 C1143.4,373.8 1148.6,371.6 1153.2,374.6 C1155.6,369.4 1160.6,368.2 1164.8,371.4"/>
<!-- cylinder 1 -->
<path fill="#7b9cb9" d="M1018.8,449 C1018.8,440 1025,433.8 1032.8,433.8 C1040.6,433.8 1046.6,440 1046.6,449 V511.2 H1018.8Z"/>
<path fill="#8fafcc" d="M1030.4,434 C1031.2,433.8 1032,433.8 1032.8,433.8 C1040.6,433.8 1046.6,440 1046.6,449 V511 H1030.4Z"/>
<rect x="1036" y="442.6" width="6.4" height="55" rx="3.2" fill="#b9d2e9"/>
<rect x="1018.8" y="502" width="27.8" height="9.2" fill="#fff"/>
<rect x="1018.8" y="502" width="14" height="9.2" fill="#8fafcc"/>
<path class="ol nf" d="M1018.8,511.2 V449 C1018.8,440 1025,433.8 1032.8,433.8 C1040.6,433.8 1046.6,440 1046.6,449 V511.2 M1018.8,502 H1046.6"/>
<rect x="1029.4" y="430.6" width="6.8" height="3.4" fill="#7b9cb9" class="ol" style="stroke-width:1.75"/>
<rect x="1023.4" y="418.8" width="19.6" height="12" rx="1.2" fill="#b9d66c" class="ol"/>
<!-- beam & head -->
<path fill="#97b6d3" class="ol" d="M1119.6,384.2 C1138,387 1152.2,401 1152.2,419 C1152.2,428 1148.8,436.4 1143.4,442.6 L1128.4,418.6 L1042.6,467.4 L1038.4,460.4 L1121.8,407.2 L1113,396.2Z"/>
<path fill="none" stroke="#e3edf6" stroke-width="1.90" d="M1124.6,387.2 C1140,391.6 1150.2,404 1150.2,419 C1150.2,426.6 1147.6,433.8 1143.6,439.4"/>
<path class="ol nf" style="stroke-width:1.75" d="M1125.4,389.2 C1139.4,393.6 1148.4,405.6 1148.4,419.2 C1148.4,426 1146.2,432.4 1142.6,437.6"/>
<!-- A-frame -->
<path fill="#97b6d3" class="ol" d="M1091.4,436 L1096.4,436 L1123,511 L1118,511 L1094.4,446 L1080,511 L1074.6,511Z"/>
<path fill="#a9c5de" d="M1093.4,438 L1095.4,438 L1120.8,510 L1119.2,510Z"/>
<circle cx="1094.8" cy="432.6" r="7.4" fill="#a9c5de" class="ol"/>
<circle cx="1094.8" cy="432.6" r="3.5" fill="#6f94b5" class="ol" style="stroke-width:1.75"/>
<!-- cylinder 2 -->
<path fill="#7b9cb9" d="M1046.8,468 C1046.8,459 1053,452.8 1060.6,452.8 C1068.4,452.8 1074.6,459 1074.6,468 V511.2 H1046.8Z"/>
<path fill="#8fafcc" d="M1058.4,453 C1059.2,452.8 1060,452.8 1060.6,452.8 C1068.4,452.8 1074.6,459 1074.6,468 V511 H1058.4Z"/>
<rect x="1063.6" y="464" width="6.4" height="33" rx="3.2" fill="#b9d2e9"/>
<rect x="1046.8" y="502" width="27.8" height="9.2" fill="#fff"/>
<rect x="1046.8" y="502" width="13.4" height="9.2" fill="#8fafcc"/>
<path class="ol nf" d="M1046.8,511.2 V468 C1046.8,459 1053,452.8 1060.6,452.8 C1068.4,452.8 1074.6,459 1074.6,468 V511.2 M1046.8,502 H1074.6"/>
<rect x="1057" y="449.8" width="7" height="3.2" fill="#7b9cb9" class="ol" style="stroke-width:1.75"/>
<rect x="1051.4" y="440.4" width="18.2" height="9.6" rx="1.2" fill="#b9d66c" class="ol"/>
<!-- rod -->
<path class="ol nf" d="M1143.3,450 V480" style="stroke-width:1.75"/>
<rect x="1139.8" y="479.8" width="6.2" height="31.4" fill="#b9d66c" class="ol" style="stroke-width:1.75"/>
<circle cx="1143.3" cy="446.8" r="3.2" fill="#d4df70" class="ol" style="stroke-width:1.75"/>
<!-- ground -->
<path class="gl" d="M1013.8,511.4 H1175.6"/>
<!-- green arrow -->
<path fill="#b9d66c" transform="translate(-1.5,0.4)" d="M1150.3,443.9 H1166.5 L1163.4,523.6 L1172.5,520 L1157.6,538.8 L1143.8,521 L1154.4,523.6Z"/>
<path fill="#b9d66c" class="ol" style="stroke-linejoin:miter;stroke-width:1.8" d="M1150.3,443.9 H1166.5 L1163.4,523.6 L1172.5,520 L1157.6,538.8 L1143.8,521 L1154.4,523.6Z"/>
<use href="#spk" class="sp" transform="translate(1031.6,400.3) scale(8.5)" style="stroke-width:0.235"/>
<use href="#spk" class="sp" transform="translate(1054.3,407.6) scale(12.6)" style="stroke-width:0.16"/>
</g>

<!-- arrows -->
<defs>
<path id="arw" d="M0,-8.9 L40.2,-7.3 L38.9,-15.8 L60.1,0 L38.9,15.8 L40.2,6.8 L0,8.9Z"/>
<path id="split" d="M970.6,269.5 L1028,270 C1040,270 1046,262 1054.3,243.9 L1045,242.7 L1078.6,223.8 L1079.4,261.5 L1071.4,254 C1064,266 1058,274 1053.8,279.8 C1058,286 1064,295 1071.4,306.7 L1079.4,299.2 L1078.6,336.9 L1045,318 L1054.3,315.5 C1046,298 1040,291 1028,290.6 L970.6,290.9Z"/>
</defs>
<g fill="#fdc551">
<use href="#arw" transform="translate(235.4,281.2)"/>
<use href="#arw" transform="translate(481.3,281.2)"/>
<use href="#arw" transform="translate(715.4,281.1) scale(0.964,1)"/>
<use href="#split" transform="translate(-1.6,0.6)"/>
</g>
<g class="ar">
<use href="#arw" transform="translate(237,280.6)"/>
<use href="#arw" transform="translate(482.9,280.6)"/>
<use href="#arw" transform="translate(717,280.5) scale(0.964,1)"/>
<use href="#split"/>
</g>

<!-- labels -->
<g class="lbl" filter="url(#nof)">
<text x="105.7" y="386.7" textLength="80" lengthAdjust="spacingAndGlyphs">SOURCES</text>
<text x="347.6" y="386.7" textLength="82.5" lengthAdjust="spacingAndGlyphs">CAPTURE</text>
<text x="569.9" y="386.7" textLength="125" lengthAdjust="spacingAndGlyphs">COMPRESSION</text>
<text x="796.3" y="386.7" textLength="158.5" lengthAdjust="spacingAndGlyphs">TRANSPORTATION</text>
<text x="1039.8" y="211.3" textLength="113.4" lengthAdjust="spacingAndGlyphs">UTILIZATION</text>
<text x="1055.7" y="547" textLength="81" lengthAdjust="spacingAndGlyphs">STORAGE</text>
</g>

</svg>
</body></html>
